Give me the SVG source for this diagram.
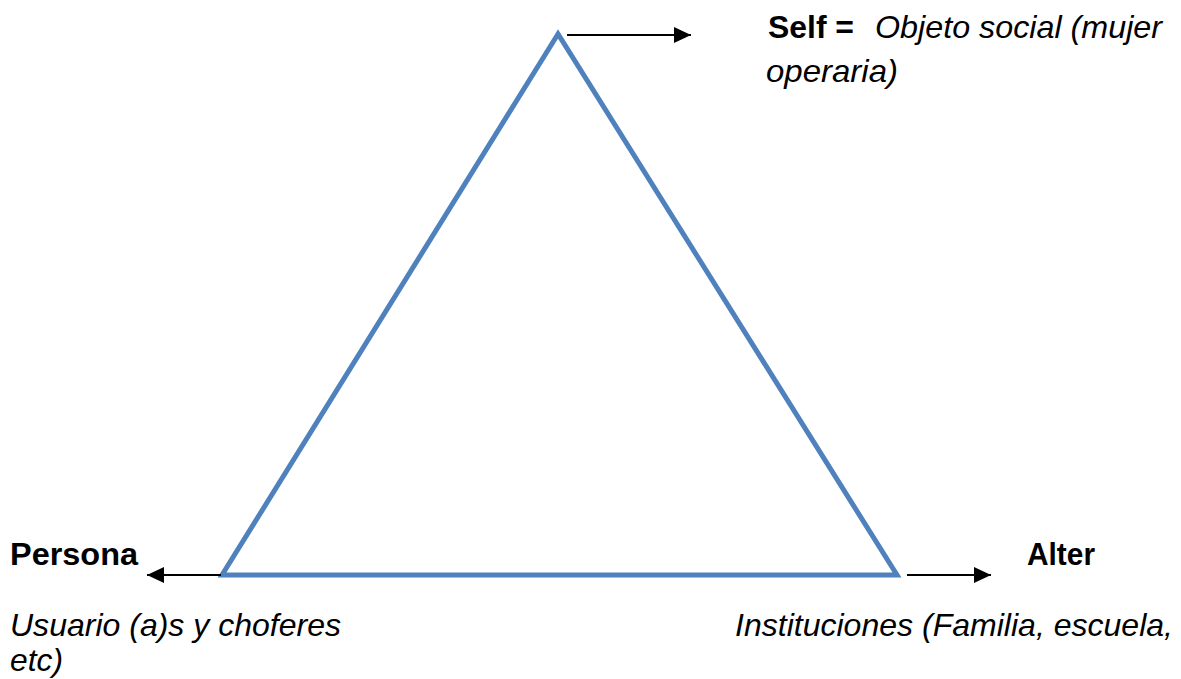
<svg xmlns="http://www.w3.org/2000/svg" width="1181" height="679" viewBox="0 0 1181 679">
<style>
.t{font-family:"Liberation Sans",Arial,sans-serif;font-size:32px;fill:#000}
.b{font-weight:bold}
.i{font-style:italic}
.c{stroke:#000;stroke-width:2;fill:none}
</style>
<defs>
<marker id="ah" markerWidth="17" markerHeight="16" refX="17" refY="8" orient="auto" markerUnits="userSpaceOnUse">
<path d="M0,0 L17,8 L0,16 Z" fill="#000"/>
</marker>
</defs>
<rect width="1181" height="679" fill="#fff"/>
<g id="triangle">
<polygon points="558,34 222,575 897,575" fill="none" stroke="#4F81BD" stroke-width="5" stroke-linejoin="miter"/>
</g>
<g id="connectors">
<line class="c" x1="567" y1="35" x2="691" y2="35" marker-end="url(#ah)"/>
<line class="c" x1="221" y1="575" x2="147" y2="575" marker-end="url(#ah)"/>
<line class="c" x1="907" y1="575" x2="991" y2="575" marker-end="url(#ah)"/>
</g>
<g id="self">
<text class="t b" x="768" y="38" textLength="86" lengthAdjust="spacingAndGlyphs">Self =</text>
<text class="t i" x="875" y="38" textLength="287" lengthAdjust="spacingAndGlyphs">Objeto social (mujer</text>
<text class="t i" x="766" y="82" textLength="132" lengthAdjust="spacingAndGlyphs">operaria)</text>
</g>
<g id="persona">
<text class="t b" x="10" y="565" textLength="128" lengthAdjust="spacingAndGlyphs">Persona</text>
<text class="t i" x="10" y="636" textLength="331" lengthAdjust="spacingAndGlyphs">Usuario (a)s y choferes</text>
<text class="t i" x="10" y="671" textLength="53" lengthAdjust="spacingAndGlyphs">etc)</text>
</g>
<g id="alter">
<text class="t b" x="1027" y="565" textLength="68" lengthAdjust="spacingAndGlyphs">Alter</text>
<text class="t i" x="735" y="636" textLength="438" lengthAdjust="spacingAndGlyphs">Instituciones (Familia, escuela,</text>
</g>
</svg>
